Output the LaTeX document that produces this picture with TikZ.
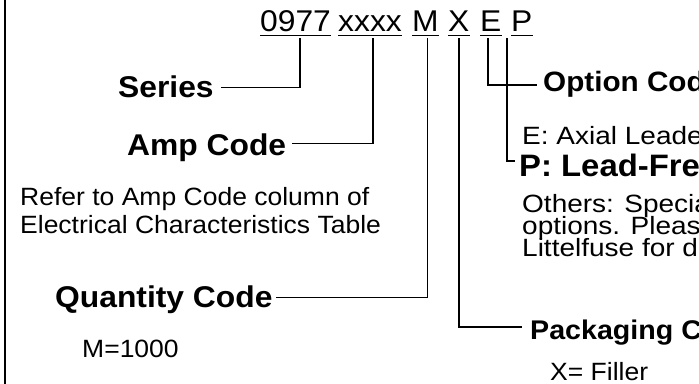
\documentclass[tikz,border=0pt]{standalone}
\usepackage{fontspec}
\setmainfont{Liberation Sans}[FakeStretch=1.06]
\newfontfamily\widefont{Liberation Sans}[FakeStretch=1.12]
\begin{document}
\begin{tikzpicture}[x=1pt,y=1pt,
  code/.style={inner sep=0pt, anchor=base west, font=\fontsize{30}{30}\selectfont, text height=21.5pt, text depth=0pt},
  lab/.style={inner sep=0pt, anchor=base west, font=\fontsize{30}{30}\selectfont\bfseries, text height=21.5pt, text depth=0pt},
  labp/.style={inner sep=0pt, anchor=base west, font=\fontsize{31}{31}\selectfont\bfseries, text height=22.2pt, text depth=0pt},
  labo/.style={inner sep=0pt, anchor=base west, font=\fontsize{28}{28}\selectfont\bfseries, text height=20pt, text depth=0pt},
  labk/.style={inner sep=0pt, anchor=base west, font=\fontsize{27}{27}\selectfont\bfseries, text height=19.3pt, text depth=0pt},
  txt/.style={inner sep=0pt, anchor=base west, font=\fontsize{25}{25}\selectfont},
  txtr/.style={inner sep=0pt, anchor=base west, font=\widefont\fontsize{25}{25}\selectfont},
  conn/.style={line width=1.4pt},
  uline/.style={line width=1.4pt},
  border/.style={line width=2pt}
]
\useasboundingbox (0,0) rectangle (699,383);
\draw[border] (5,-2) -- (5,385);

% part number
\node[code] (c0977) at (260,351) {0977};
\node[code] (cxxxx) at (338,351) {xxxx};
\node[code] (cM) at (412,351) {M};
\node[code] (cX) at (448,351) {X};
\node[code] (cE) at (480,351) {E};
\node[code] (cP) at (511,351) {P};
\foreach \n in {c0977,cxxxx,cM,cX,cE,cP}
  \draw[uline] ([yshift=-3.5pt]\n.south west) -- ([yshift=-3.5pt]\n.south east);

% labels
\node[lab] (series) at (118,285) {Series};
\node[lab] (amp) at (127,227) {Amp Code};
\node[txt] (refer1) at (20,177) {Refer to Amp Code column of};
\node[txt] (refer2) at (20,149) {Electrical Characteristics Table};
\node[lab] (qty) at (55,75) {Quantity Code};
\node[txt] (m1000) at (82,25) {M=1000};

\node[labo] (opt) at (543,291) {Option Code};
\node[txtr] (axial) at (522,238) {E: Axial Leaded};
\node[labp] (pfree) at (519,206) {P: Lead-Free};
\node[txtr] (others1) at (522,170.5) {Others: Special lead and packaging};
\node[txtr] (others2) at (522,148.5) {options. Please contact};
\node[txtr] (others3) at (522,126) {Littelfuse for details.};
\node[labk] (pack) at (530,43) {Packaging Code};
\node[txt] (filler) at (550,2) {X= Filler};

% connectors
\draw[conn] ([xshift=40pt,yshift=-6pt]c0977.south west) |- ([xshift=7pt]series.east);
\draw[conn] ([xshift=35pt,yshift=-6pt]cxxxx.south west) |- ([xshift=6pt,yshift=2pt]amp.east);
\draw[conn] ([xshift=2pt,yshift=-6pt]cM.south) |- ([xshift=3pt]qty.east);
\draw[conn] ([yshift=-6pt]cX.south) |- ([xshift=-8pt,yshift=3.3pt]pack.west);
\draw[conn] ([xshift=-3pt,yshift=-6pt]cE.south) |- ([xshift=-6pt,yshift=-3pt]opt.west);
\draw[conn] ([xshift=-4pt,yshift=-6pt]cP.south west) |- ([xshift=-4pt,yshift=5pt]pfree.west);
\end{tikzpicture}
\end{document}
